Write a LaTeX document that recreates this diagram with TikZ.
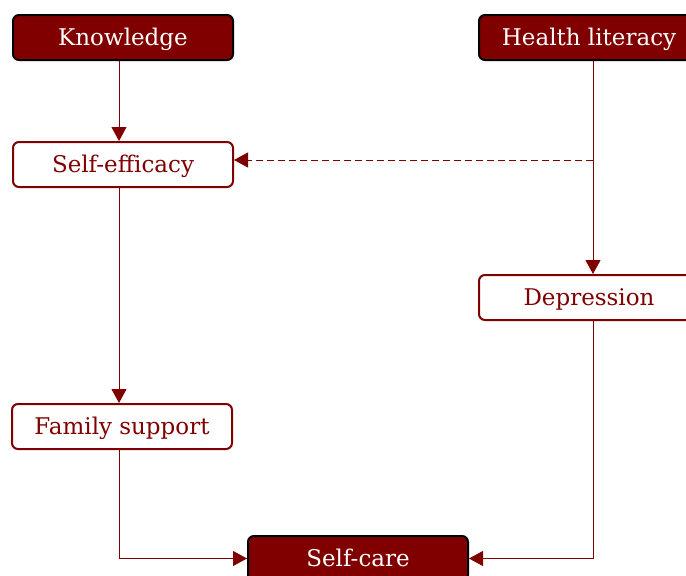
\documentclass[tikz,border=0pt]{standalone}
\usepackage{fontspec}
\setmainfont{DejaVu Serif}
\usetikzlibrary{arrows.meta}
\definecolor{maroon}{RGB}{128,0,0}

\begin{document}
\begin{tikzpicture}[x=1pt, y=-1pt,
		box/.style={rounded corners=6pt, minimum width=220pt, minimum height=45pt, inner sep=0pt, text height=17pt, text depth=2pt, font=\fontsize{23}{27}\selectfont},
		mainbox/.style={box, draw=black, line width=2pt, fill=maroon, text=white},
		sidebox/.style={box, draw=maroon, line width=2pt, fill=white, text=maroon},
		link/.style={draw=maroon, line width=1pt, -{Triangle[length=14pt, width=15pt]}}]
		      		\useasboundingbox (0,0) rectangle (686,576);

		      		\node[mainbox] (know) at (123,37.5) {Knowledge};
		      		\node[mainbox] (hlit) at (589,37.5) {Health literacy};
		      		\node[sidebox] (eff) at (123,164.5) {Self-efficacy};
		      		\node[sidebox] (dep) at (589,297.5) {Depression};
		      		\node[sidebox] (fam) at (122,426.5) {Family support};
		      		\node[mainbox] (care) at (358,558.5) {Self-care};

		      		\draw[link] ([xshift=-4pt]know.south) -- ([xshift=-4pt]eff.north);
		      		\draw[link] ([xshift=4pt]hlit.south) -- ([xshift=4pt]dep.north);
		      		\draw[link] ([xshift=-4pt]eff.south) -- ([xshift=-3pt]fam.north);
		      		\draw[link, dash pattern=on 7pt off 4pt] ([xshift=4pt]hlit.south |- 0,160) -- ([yshift=4.5pt]eff.east);
		      		\draw[link] ([xshift=-3pt]fam.south) |- (care.west);
		      		\draw[link] ([xshift=4pt]dep.south) |- (care.east);
		      	\end{tikzpicture}
\end{document}
